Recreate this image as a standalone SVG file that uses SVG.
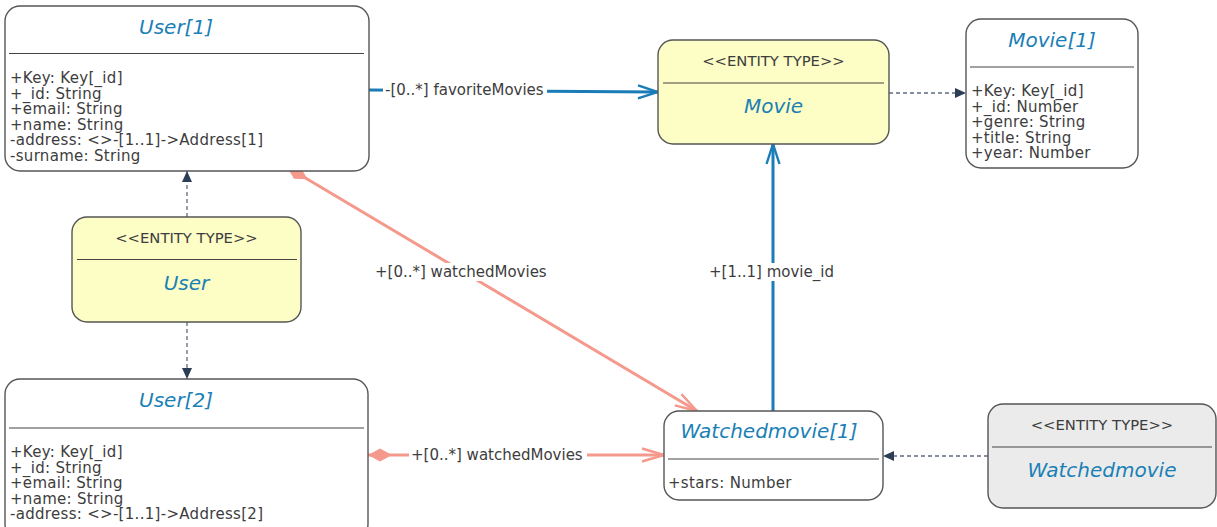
<svg xmlns="http://www.w3.org/2000/svg" width="1217" height="527" viewBox="0 0 1217 527">
<style>
  text { font-family: "DejaVu Sans", Verdana, sans-serif; fill: #3d3d3d; }
  .box { fill: #ffffff; stroke: #555555; stroke-width: 1.4; }
  .ent { fill: #fdfdc6; stroke: #555555; stroke-width: 1.4; }
  .entg { fill: #ebebeb; stroke: #555555; stroke-width: 1.4; }
  .sep { stroke: #444444; stroke-width: 1.2; }
  .title { font-size: 20px; font-style: italic; fill: #1a80b6; text-anchor: middle; }
  .stereo { font-size: 14.8px; text-anchor: middle; }
  .attr { font-size: 15px; letter-spacing: 0.3px; }
  .lbl { font-size: 15px; }
  .lblbg { fill: #ffffff; }
  .blue { stroke: #1a7db8; stroke-width: 3; fill: none; }
  .red { stroke: #f4998c; stroke-width: 3; fill: none; }
  .dash { stroke: #5d6b7d; stroke-width: 1.3; stroke-dasharray: 4 3; fill: none; }
</style>
<defs>
  <marker id="openBlue" viewBox="-22 -9 24 18" refX="0" refY="0" markerWidth="24" markerHeight="18" orient="auto" markerUnits="userSpaceOnUse">
    <path d="M-20,-6.5 L0,0 L-20,6.5" fill="none" stroke="#1a7db8" stroke-width="2.4"/>
  </marker>
  <marker id="openRed" viewBox="-24 -9 26 18" refX="0" refY="0" markerWidth="26" markerHeight="18" orient="auto" markerUnits="userSpaceOnUse">
    <path d="M-22,-6.5 L0,0 L-22,6.5" fill="none" stroke="#f4998c" stroke-width="2.4"/>
  </marker>
  <marker id="diamondRed" viewBox="-1 -8 27 16" refX="0" refY="0" markerWidth="27" markerHeight="16" orient="auto" markerUnits="userSpaceOnUse">
    <path d="M0,0 L12,-6.5 L24,0 L12,6.5 Z" fill="#f4998c"/>
  </marker>
  <marker id="navy" viewBox="-12 -7 13 14" refX="0" refY="0" markerWidth="13" markerHeight="14" orient="auto" markerUnits="userSpaceOnUse">
    <path d="M0,0 L-11,-5 L-11,5 Z" fill="#2c3e55"/>
  </marker>
</defs>
<rect x="0" y="0" width="1217" height="527" fill="#ffffff"/>

<g id="connectors">
  <!-- favoriteMovies -->
  <path class="blue" d="M369,90 L658,92" marker-end="url(#openBlue)"/>
  <rect class="lblbg" x="383" y="81" width="164" height="18"/>
  <text class="lbl" x="385" y="95">-[0..*] favoriteMovies</text>
  <!-- movie_id -->
  <path class="blue" d="M773,411 L773,144" marker-end="url(#openBlue)"/>
  <rect class="lblbg" x="707" y="263" width="133" height="18"/>
  <text class="lbl" x="709" y="277">+[1..1] movie_id</text>
  <!-- watchedMovies diagonal -->
  <path class="red" d="M287,167 L697,411" marker-start="url(#diamondRed)" marker-end="url(#openRed)"/>
  <rect class="lblbg" x="373" y="263" width="180" height="18"/>
  <text class="lbl" x="375" y="277">+[0..*] watchedMovies</text>
  <!-- watchedMovies horizontal -->
  <path class="red" d="M368,455 L664,455" marker-start="url(#diamondRed)" marker-end="url(#openRed)"/>
  <rect class="lblbg" x="409" y="446" width="178" height="18"/>
  <text class="lbl" x="411" y="460">+[0..*] watchedMovies</text>
  <!-- dashed -->
  <path class="dash" d="M889,93 L966,93" marker-end="url(#navy)"/>
  <path class="dash" d="M187,217 L187,171" marker-end="url(#navy)"/>
  <path class="dash" d="M187,322 L187,379" marker-end="url(#navy)"/>
  <path class="dash" d="M988,456 L883,456" marker-end="url(#navy)"/>
</g>

<g id="user1">
  <rect class="box" x="5" y="6" width="364" height="165" rx="15"/>
  <text class="title" x="176" y="34">User[1]</text>
  <line class="sep" x1="9" y1="53.5" x2="364" y2="53.5"/>
  <text class="attr" x="10" y="83"><tspan x="10">+Key: Key[_id]</tspan><tspan x="10" dy="15.5">+_id: String</tspan><tspan x="10" dy="15.5">+email: String</tspan><tspan x="10" dy="15.5">+name: String</tspan><tspan x="10" dy="15.5">-address: &lt;&gt;-[1..1]-&gt;Address[1]</tspan><tspan x="10" dy="15.5">-surname: String</tspan></text>
</g>

<g id="movieEntity">
  <rect class="ent" x="658" y="40" width="231" height="104" rx="15"/>
  <text class="stereo" x="773.5" y="66">&lt;&lt;ENTITY TYPE&gt;&gt;</text>
  <line class="sep" x1="663" y1="83" x2="884" y2="83"/>
  <text class="title" x="773.5" y="113">Movie</text>
</g>

<g id="movie1">
  <rect class="box" x="966" y="19" width="172" height="149" rx="15"/>
  <text class="title" x="1052" y="47">Movie[1]</text>
  <line class="sep" x1="970" y1="67" x2="1134" y2="67"/>
  <text class="attr" x="971" y="96"><tspan x="971">+Key: Key[_id]</tspan><tspan x="971" dy="15.5">+_id: Number</tspan><tspan x="971" dy="15.5">+genre: String</tspan><tspan x="971" dy="15.5">+title: String</tspan><tspan x="971" dy="15.5">+year: Number</tspan></text>
</g>

<g id="userEntity">
  <rect class="ent" x="72" y="217" width="229" height="105" rx="15"/>
  <text class="stereo" x="186.5" y="243">&lt;&lt;ENTITY TYPE&gt;&gt;</text>
  <line class="sep" x1="77" y1="259.5" x2="297" y2="259.5"/>
  <text class="title" x="186.5" y="290">User</text>
</g>

<g id="user2">
  <rect class="box" x="5" y="379" width="363" height="160" rx="15"/>
  <text class="title" x="176" y="407">User[2]</text>
  <line class="sep" x1="9" y1="428" x2="364" y2="428"/>
  <text class="attr" x="10" y="457"><tspan x="10">+Key: Key[_id]</tspan><tspan x="10" dy="15.5">+_id: String</tspan><tspan x="10" dy="15.5">+email: String</tspan><tspan x="10" dy="15.5">+name: String</tspan><tspan x="10" dy="15.5">-address: &lt;&gt;-[1..1]-&gt;Address[2]</tspan></text>
</g>

<g id="watchedmovie1">
  <rect class="box" x="664" y="411" width="219" height="89" rx="15"/>
  <text class="title" x="769" y="438">Watchedmovie[1]</text>
  <line class="sep" x1="668" y1="459" x2="879" y2="459"/>
  <text class="attr" x="668" y="488">+stars: Number</text>
</g>

<g id="watchedmovieEntity">
  <rect class="entg" x="988" y="404" width="228" height="104" rx="15"/>
  <text class="stereo" x="1102" y="430">&lt;&lt;ENTITY TYPE&gt;&gt;</text>
  <line class="sep" x1="992" y1="447" x2="1212" y2="447"/>
  <text class="title" x="1102" y="477">Watchedmovie</text>
</g>
</svg>
